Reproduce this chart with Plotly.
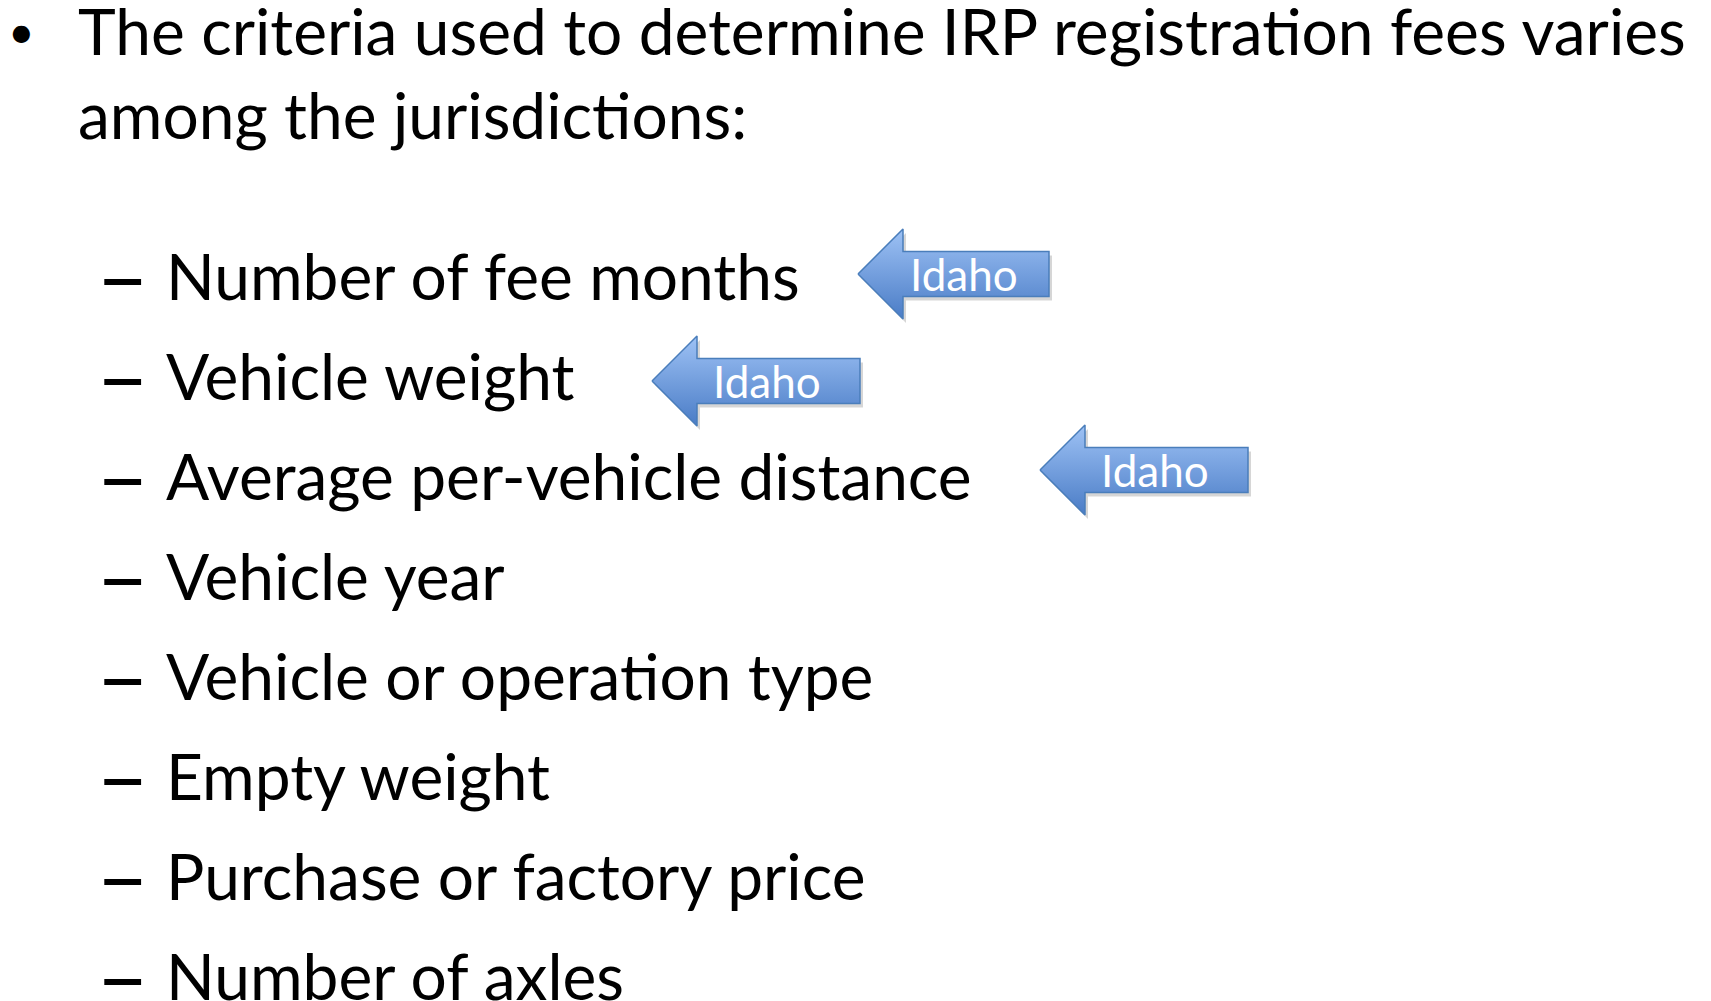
import plotly.graph_objects as go

# slide content
intro_lines = [
    "The criteria used to determine IRP registration fees varies",
    "among the jurisdictions:",
]
criteria = [
    "Number of fee months",
    "Vehicle weight",
    "Average per-vehicle distance",
    "Vehicle year",
    "Vehicle or operation type",
    "Empty weight",
    "Purchase or factory price",
    "Number of axles",
]
tag_label = "Idaho"
tagged_items = [0, 1, 2]  # criteria that get an "Idaho" arrow

# layout (pixel space of the slide)
W, H = 1711, 1001
PAGE_MARGIN = 8  # default body margin of the html page
FONT = "Lato"
TEXT_SIZE = 64
intro_x, intro_y, intro_step = 76, 30, 84
item_x, dash_x, item_y0, item_step = 164, 94, 275, 100
# arrow: tip x, body right x per tagged row
arrow_tip_x = [858, 652, 1040]
arrow_right_x = [1049, 860, 1248]
arrow_y = [274, 381, 470]
head_len, head_half, body_half = 45, 45, 22.5
label_shift = -12  # label sits a bit left of the body centre

fig = go.Figure()

# arrows
for k, idx in enumerate(tagged_items):
    tx, rx, cy = arrow_tip_x[k], arrow_right_x[k], arrow_y[k]
    hx = tx + head_len
    xs = [tx, hx, hx, rx, rx, hx, hx, tx]
    ys = [cy, cy - head_half, cy - body_half, cy - body_half,
          cy + body_half, cy + body_half, cy + head_half, cy]
    # soft shadow
    fig.add_trace(go.Scatter(
        x=[v + 3 for v in xs], y=[v + 4 for v in ys], mode="lines",
        fill="toself", fillcolor="rgba(0,0,0,0.16)",
        line=dict(width=0), hoverinfo="skip", showlegend=False,
    ))
    fig.add_trace(go.Scatter(
        x=xs, y=ys, mode="lines", fill="toself",
        fillgradient=dict(type="vertical",
                          colorscale=[[0, "#4a7cc6"], [1, "#9ec2f5"]],
                          start=cy + head_half, stop=cy - head_half),
        line=dict(color="#4a7ebb", width=1.5),
        hoverinfo="skip", showlegend=False,
    ))
    fig.add_annotation(x=(hx + rx) / 2 + label_shift, y=cy, text=tag_label,
                       showarrow=False, xanchor="center", yanchor="middle",
                       font=dict(family=FONT, size=44, color="white"))

# intro bullet (anchored inside the axis range, nudged left in pixels)
fig.add_annotation(x=PAGE_MARGIN + 1, y=intro_y, text="•", showarrow=False,
                   xanchor="left", yanchor="middle", xshift=-3,
                   font=dict(family=FONT, size=46, color="black"))
for i, line in enumerate(intro_lines):
    fig.add_annotation(x=intro_x, y=intro_y + i * intro_step, text=line,
                       showarrow=False, xanchor="left", yanchor="middle",
                       font=dict(family=FONT, size=TEXT_SIZE, color="black"))

# criteria list
for i, item in enumerate(criteria):
    y = item_y0 + i * item_step
    fig.add_annotation(x=dash_x, y=y - 2, text="–", showarrow=False,
                       xanchor="left", yanchor="middle",
                       font=dict(family=FONT, size=92, color="black"))
    fig.add_annotation(x=item_x, y=y, text=item, showarrow=False,
                       xanchor="left", yanchor="middle",
                       font=dict(family=FONT, size=TEXT_SIZE, color="black"))

fig.update_xaxes(range=[PAGE_MARGIN, W + PAGE_MARGIN], visible=False,
                 fixedrange=True)
fig.update_yaxes(range=[H + PAGE_MARGIN, PAGE_MARGIN], visible=False,
                 fixedrange=True)
fig.update_layout(width=W, height=H, margin=dict(l=0, r=0, t=0, b=0),
                  plot_bgcolor="white", paper_bgcolor="white")

fig.write_html("out.html")
